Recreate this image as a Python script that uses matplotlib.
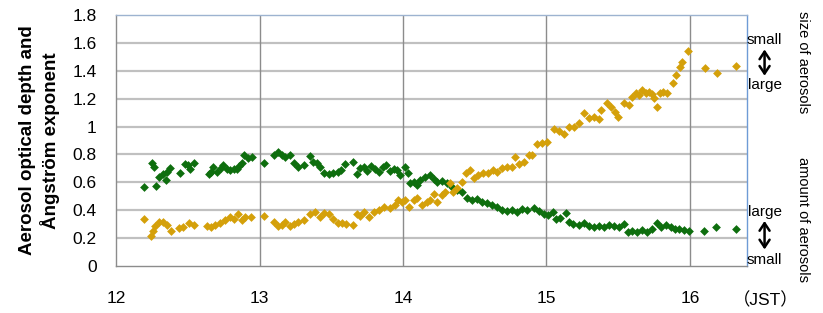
import matplotlib
matplotlib.use("Agg")
import matplotlib.pyplot as plt

# time of day (JST, hours) and values
# green: aerosol optical depth
aod_t = [12.195, 12.253, 12.265, 12.279, 12.30, 12.33, 12.347, 12.358, 12.377, 12.447,
         12.48, 12.505, 12.516, 12.546, 12.649, 12.663, 12.679, 12.707, 12.731, 12.749,
         12.773, 12.796, 12.819, 12.842, 12.86, 12.877, 12.895, 12.923, 12.947, 13.033,
         13.098, 13.126, 13.156, 13.179, 13.214, 13.237, 13.265, 13.312, 13.349, 13.372,
         13.40, 13.424, 13.447, 13.482, 13.512, 13.544, 13.568, 13.598, 13.649, 13.68,
         13.703, 13.731, 13.75, 13.777, 13.807, 13.83, 13.861, 13.884, 13.912, 13.935,
         13.959, 13.982, 14.017, 14.035, 14.052, 14.075, 14.098, 14.121, 14.156, 14.191,
         14.214, 14.237, 14.273, 14.308, 14.343, 14.378, 14.412, 14.447, 14.482, 14.517,
         14.552, 14.587, 14.622, 14.657, 14.692, 14.727, 14.762, 14.797, 14.831, 14.866,
         14.912, 14.947, 14.982, 15.01, 15.047, 15.07, 15.098, 15.133, 15.157, 15.187,
         15.226, 15.261, 15.296, 15.331, 15.366, 15.40, 15.435, 15.47, 15.505, 15.54,
         15.568, 15.598, 15.633, 15.668, 15.703, 15.738, 15.768, 15.796, 15.831, 15.866,
         15.894, 15.924, 15.959, 15.994, 16.098, 16.185, 16.32]
aod_v = [0.569, 0.737, 0.712, 0.574, 0.636, 0.658, 0.617, 0.677, 0.701, 0.669,
         0.732, 0.725, 0.694, 0.737, 0.660, 0.677, 0.708, 0.677, 0.701, 0.725,
         0.694, 0.689, 0.694, 0.694, 0.717, 0.741, 0.796, 0.773, 0.784, 0.741,
         0.796, 0.820, 0.796, 0.780, 0.796, 0.737, 0.708, 0.725, 0.789, 0.749,
         0.737, 0.712, 0.669, 0.660, 0.669, 0.677, 0.689, 0.732, 0.749, 0.660,
         0.701, 0.712, 0.684, 0.717, 0.694, 0.677, 0.708, 0.725, 0.684, 0.694,
         0.689, 0.653, 0.712, 0.665, 0.598, 0.605, 0.581, 0.617, 0.641, 0.653,
         0.622, 0.605, 0.612, 0.593, 0.569, 0.545, 0.533, 0.486, 0.473, 0.478,
         0.461, 0.450, 0.438, 0.421, 0.402, 0.397, 0.402, 0.390, 0.407, 0.402,
         0.414, 0.397, 0.373, 0.366, 0.390, 0.335, 0.342, 0.378, 0.318, 0.301,
         0.294, 0.306, 0.287, 0.278, 0.287, 0.278, 0.294, 0.287, 0.282, 0.301,
         0.246, 0.253, 0.246, 0.258, 0.246, 0.263, 0.306, 0.278, 0.294, 0.278,
         0.263, 0.263, 0.258, 0.253, 0.253, 0.278, 0.265]

# orange: Angstrom exponent
ang_t = [12.195, 12.242, 12.256, 12.272, 12.302, 12.33, 12.354, 12.382, 12.442, 12.47,
         12.512, 12.54, 12.637, 12.661, 12.691, 12.726, 12.761, 12.791, 12.819, 12.853,
         12.877, 12.90, 12.94, 13.028, 13.098, 13.126, 13.156, 13.179, 13.214, 13.237,
         13.265, 13.312, 13.349, 13.389, 13.42, 13.447, 13.482, 13.512, 13.544, 13.575,
         13.605, 13.652, 13.68, 13.703, 13.731, 13.761, 13.796, 13.83, 13.87, 13.907,
         13.947, 13.963, 13.994, 14.017, 14.045, 14.075, 14.098, 14.133, 14.168, 14.191,
         14.214, 14.237, 14.273, 14.296, 14.33, 14.347, 14.378, 14.412, 14.44, 14.47,
         14.493, 14.524, 14.556, 14.594, 14.626, 14.657, 14.692, 14.727, 14.757, 14.784,
         14.812, 14.842, 14.877, 14.90, 14.936, 14.97, 15.006, 15.052, 15.087, 15.122,
         15.157, 15.191, 15.226, 15.261, 15.296, 15.331, 15.366, 15.383, 15.419, 15.447,
         15.475, 15.498, 15.54, 15.575, 15.598, 15.622, 15.645, 15.668, 15.691, 15.715,
         15.738, 15.75, 15.768, 15.791, 15.815, 15.838, 15.885, 15.901, 15.931, 15.947,
         15.986, 16.103, 16.187, 16.32]
ang_v = [0.337, 0.215, 0.253, 0.287, 0.318, 0.318, 0.294, 0.253, 0.270, 0.278,
         0.311, 0.294, 0.287, 0.278, 0.294, 0.311, 0.330, 0.349, 0.335, 0.373,
         0.330, 0.349, 0.349, 0.359, 0.318, 0.287, 0.294, 0.318, 0.287, 0.301,
         0.318, 0.330, 0.373, 0.390, 0.354, 0.383, 0.373, 0.335, 0.311, 0.311,
         0.301, 0.294, 0.373, 0.359, 0.390, 0.349, 0.390, 0.402, 0.426, 0.414,
         0.438, 0.473, 0.461, 0.473, 0.421, 0.473, 0.486, 0.438, 0.461, 0.473,
         0.516, 0.461, 0.509, 0.533, 0.593, 0.533, 0.557, 0.605, 0.665, 0.689,
         0.629, 0.653, 0.665, 0.669, 0.689, 0.677, 0.701, 0.712, 0.712, 0.780,
         0.732, 0.749, 0.796, 0.796, 0.875, 0.880, 0.892, 0.980, 0.971, 0.947,
         0.999, 0.995, 1.024, 1.095, 1.060, 1.071, 1.052, 1.119, 1.167, 1.138,
         1.107, 1.071, 1.172, 1.155, 1.215, 1.239, 1.227, 1.263, 1.243, 1.251,
         1.234, 1.203, 1.138, 1.239, 1.251, 1.239, 1.311, 1.370, 1.430, 1.466,
         1.545, 1.417, 1.382, 1.435]

x_ticks = [12, 13, 14, 15, 16]
y_ticks = [0, 0.2, 0.4, 0.6, 0.8, 1.0, 1.2, 1.4, 1.6, 1.8]
y_labels = ['0', '0.2', '0.4', '0.6', '0.8', '1', '1.2', '1.4', '1.6', '1.8']

plt.rcParams['font.family'] = ['Liberation Sans', 'Noto Sans CJK JP', 'DejaVu Sans']

fig = plt.figure(figsize=(8.23, 3.13), dpi=100)
ax = fig.add_axes([0.141, 0.150, 0.767, 0.802])

ax.scatter(aod_t, aod_v, marker='D', s=20, color='#0E6E0E', linewidths=0, zorder=3)
ax.scatter(ang_t, ang_v, marker='D', s=20, color='#D4A00A', linewidths=0, zorder=3)

ax.set_xlim(12, 16.4)
ax.set_ylim(0, 1.8)
ax.set_xticks(x_ticks)
ax.set_yticks(y_ticks)
ax.set_yticklabels(y_labels)
ax.tick_params(axis='both', length=0, labelsize=12.5, colors='#000000')
ax.tick_params(axis='x', pad=18)
ax.tick_params(axis='y', pad=14)

# gridlines: horizontal light, vertical darker
for yv in y_ticks[1:-1]:
    ax.axhline(yv, color='#C0C0C0', lw=1.6, zorder=1)
for xv in x_ticks[1:]:
    ax.axvline(xv, color='#8C8C8C', lw=1.0, zorder=1)

ax.spines['left'].set_color('#8C8C8C')
ax.spines['bottom'].set_color('#8C8C8C')
ax.spines['top'].set_color('#9DB3D0')
ax.spines['right'].set_color('#6E9BD6')
for s in ax.spines.values():
    s.set_linewidth(1.0)

ax.set_ylabel('Aerosol optical depth and\nÅngström exponent', fontsize=13.5,
              fontweight='bold', labelpad=9, linespacing=1.25)

fig.text(0.930, 0.041, '（JST）', fontsize=12.5, ha='center', va='center')

# right-hand annotations
fig.text(0.976, 0.80, 'size of aerosols', rotation=-90, fontsize=10.5,
         ha='center', va='center')
fig.text(0.976, 0.30, 'amount of aerosols', rotation=-90, fontsize=10.5,
         ha='center', va='center')
fig.text(0.929, 0.872, 'small', fontsize=11, ha='center', va='center')
fig.text(0.929, 0.728, 'large', fontsize=11, ha='center', va='center')
fig.text(0.929, 0.322, 'large', fontsize=11, ha='center', va='center')
fig.text(0.929, 0.170, 'small', fontsize=11, ha='center', va='center')
for y0, y1 in [(0.842, 0.758), (0.294, 0.203)]:
    fig.add_artist(matplotlib.patches.FancyArrowPatch(
        (0.929, y0), (0.929, y1), transform=fig.transFigure,
        arrowstyle='<->, head_length=0.45, head_width=0.3', mutation_scale=12,
        shrinkA=0, shrinkB=0, lw=1.8, color='black'))

fig.savefig('out.png', dpi=100)
